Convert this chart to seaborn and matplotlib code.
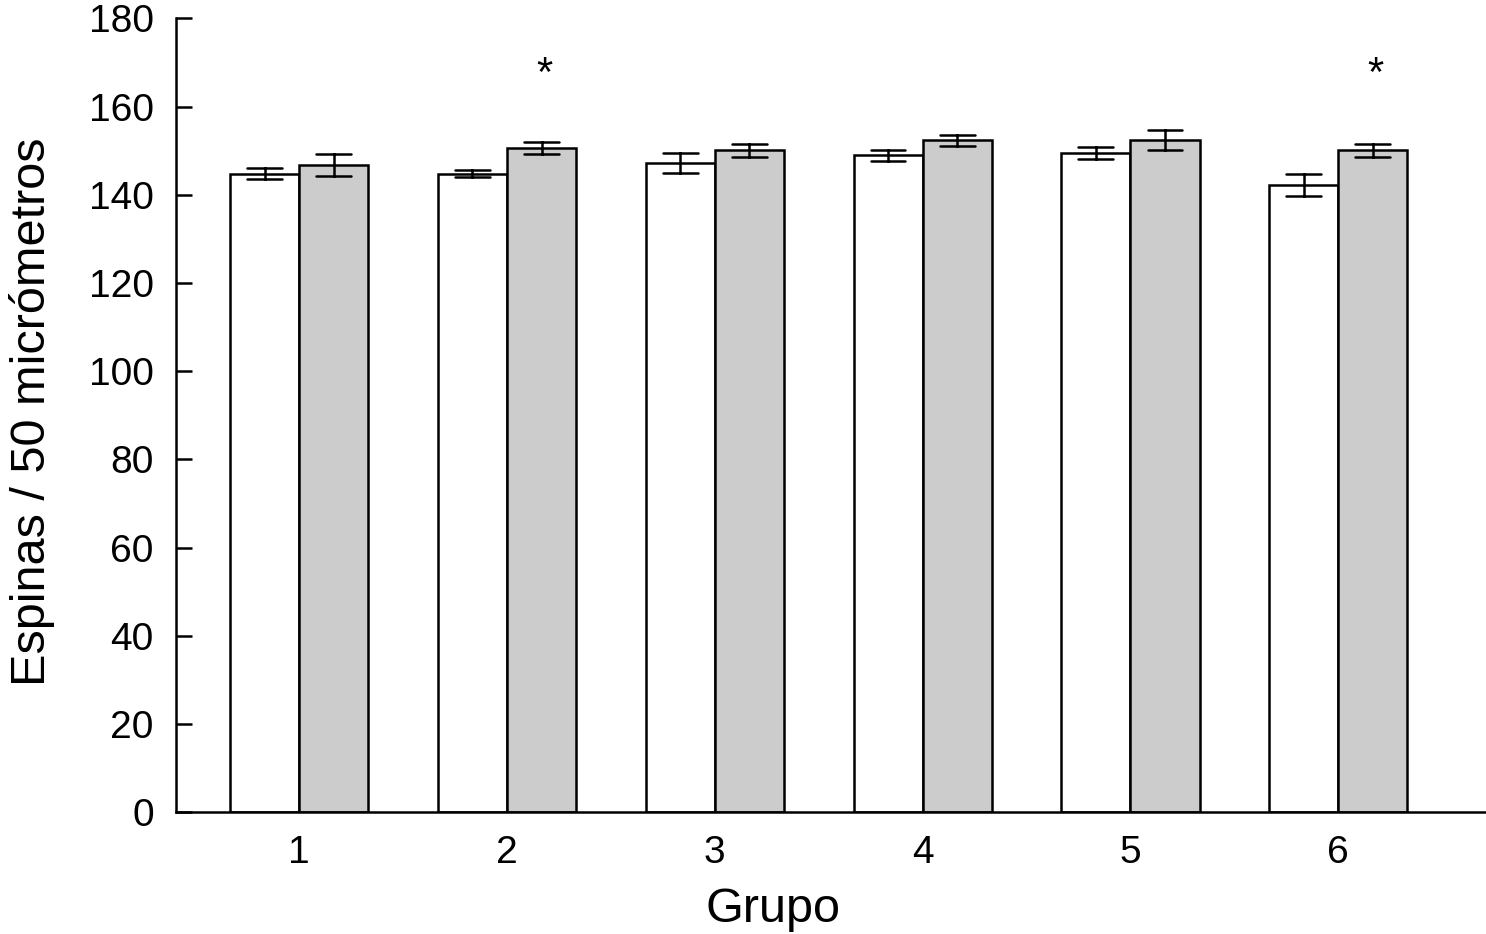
import numpy as np
import pandas as pd
import matplotlib
matplotlib.use("Agg")
import matplotlib.pyplot as plt
import seaborn as sns

groups = ["1", "2", "3", "4", "5", "6"]
series = ["A", "B"]
means_a = [144.8, 144.8, 147.2, 149.0, 149.5, 142.2]
err_a = [1.2, 0.7, 2.2, 1.25, 1.3, 2.5]
means_b = [146.7, 150.6, 150.1, 152.4, 152.4, 150.1]
err_b = [2.5, 1.3, 1.5, 1.25, 2.3, 1.5]
star_groups = ["2", "6"]
yticks = [0, 20, 40, 60, 80, 100, 120, 140, 160, 180]

rows = []
for g, m, e in zip(groups, means_a, err_a):
    rows += [(g, "A", m - e), (g, "A", m + e)]
for g, m, e in zip(groups, means_b, err_b):
    rows += [(g, "B", m - e), (g, "B", m + e)]
df = pd.DataFrame(rows, columns=["grupo", "serie", "valor"])

sns.set_theme(style="white")
plt.rcParams["font.family"] = ["Liberation Sans", "DejaVu Sans"]

fig = plt.figure(figsize=(14.86, 9.34), dpi=100)
ax = fig.add_axes([176 / 1486, 1 - 812.3 / 934, 1 - 176 / 1486, (812.3 - 18.3) / 934])

sns.barplot(data=df, x="grupo", y="valor", hue="serie", order=groups,
            hue_order=series, palette={"A": "white", "B": "#cccccc"},
            estimator="mean", errorbar=lambda v: (v.min(), v.max()),
            width=0.665, capsize=0.335, err_kws={"color": "black", "linewidth": 1.8},
            edgecolor="black", linewidth=1.8, saturation=1, legend=False, ax=ax)

for g in star_groups:
    i = groups.index(g)
    ax.text(i + 0.18, 167.2, "*", ha="center", va="center", fontsize=30, color="black")

ax.set_xlim(-0.593, 5.711)
ax.set_ylim(0, 180)
ax.set_yticks(yticks)
ax.set_yticklabels([str(t) for t in yticks])
sns.despine(ax=ax)
for s in ["left", "bottom"]:
    ax.spines[s].set_color("black")
    ax.spines[s].set_linewidth(1.8)
ax.tick_params(axis="y", direction="in", length=11.5, width=1.8, color="black",
               labelsize=28, pad=16, labelcolor="black", left=True)
ax.tick_params(axis="x", length=0, labelsize=28, pad=16, labelcolor="black")
ax.set_xlabel("Grupo", fontsize=35, color="black")
ax.set_ylabel("Espinas / 50 micrómetros", fontsize=35, color="black")
ax.xaxis.set_label_coords(0.4557, -0.094)
ax.yaxis.set_label_coords(-0.0924, 0.504)

fig.savefig("out.png", dpi=100, facecolor="white")
